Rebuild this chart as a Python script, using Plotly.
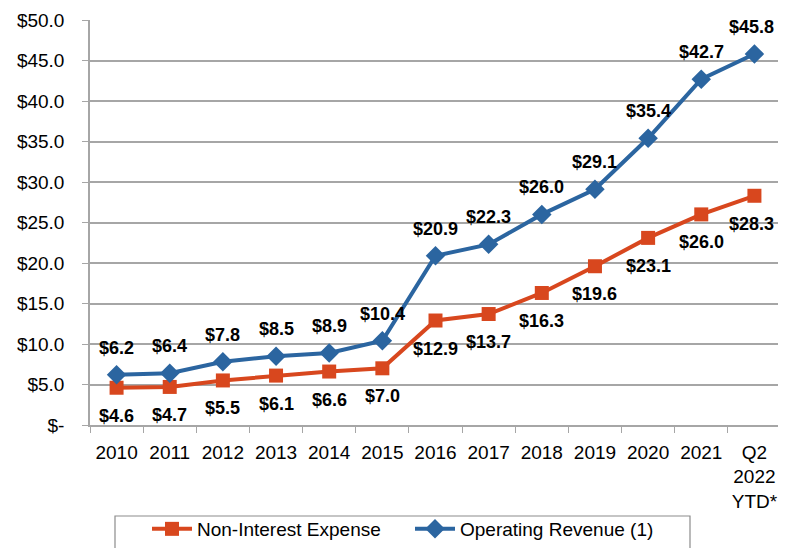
import plotly.graph_objects as go

categories = ["2010", "2011", "2012", "2013", "2014", "2015", "2016", "2017",
              "2018", "2019", "2020", "2021", "Q2<br>2022<br>YTD*"]
non_interest_expense = [4.6, 4.7, 5.5, 6.1, 6.6, 7.0, 12.9, 13.7, 16.3, 19.6, 23.1, 26.0, 28.3]
operating_revenue = [6.2, 6.4, 7.8, 8.5, 8.9, 10.4, 20.9, 22.3, 26.0, 29.1, 35.4, 42.7, 45.8]
y_tick_vals = [0, 5, 10, 15, 20, 25, 30, 35, 40, 45, 50]
y_tick_text = ["$-", "$5.0", "$10.0", "$15.0", "$20.0", "$25.0", "$30.0",
               "$35.0", "$40.0", "$45.0", "$50.0"]

ORANGE = "#D8471E"
BLUE = "#2B65A0"
GRID = "#A6A6A6"
FONT = "Liberation Sans, Arial, sans-serif"

# The page body has an 8px default margin, so the figure is sized to fit.
W, H = 773, 540
ML, MT, MB = 82, 12, 123
PH = H - MT - MB
PW = W - ML

fig = go.Figure()
fig.add_trace(go.Scatter(
    x=categories, y=non_interest_expense, name="Non-Interest Expense",
    mode="lines+markers",
    line=dict(color=ORANGE, width=4),
    marker=dict(symbol="square", size=14, color=ORANGE),
))
fig.add_trace(go.Scatter(
    x=categories, y=operating_revenue, name="Operating Revenue (1)",
    mode="lines+markers",
    line=dict(color=BLUE, width=4),
    marker=dict(symbol="diamond", size=15, color=BLUE),
))

last = len(categories) - 1
annotations = []
for i, v in enumerate(operating_revenue):
    annotations.append(dict(x=i, y=v, xref="x", yref="y", text=f"${v:.1f}", showarrow=False,
                            yshift=27, xshift=-3 if i == last else 0,
                            font=dict(family=FONT, size=18, color="black", weight="bold")))
for i, v in enumerate(non_interest_expense):
    annotations.append(dict(x=i, y=v, xref="x", yref="y", text=f"${v:.1f}", showarrow=False,
                            yshift=-28, xshift=-3 if i == last else 0,
                            font=dict(family=FONT, size=18, color="black", weight="bold")))

fig.update_layout(
    width=W, height=H,
    margin=dict(l=ML, r=0, t=MT, b=MB),
    paper_bgcolor="white", plot_bgcolor="white",
    font=dict(family=FONT, size=19, color="black"),
    showlegend=True,
    legend=dict(orientation="h", xanchor="left", x=(139 - ML) / PW, yanchor="top",
                y=(MT + PH - 502) / PH,
                font=dict(family=FONT, size=19, color="black"),
                bgcolor="rgba(0,0,0,0)", entrywidth=208, itemwidth=40),
    annotations=annotations,
    shapes=[dict(type="rect", xref="paper", yref="paper",
                 x0=(107 - ML) / PW, x1=(682 - ML) / PW,
                 y0=(MT + PH - 508) / PH, y1=(MT + PH - 600) / PH,
                 line=dict(color="#8C8C8C", width=1.2), layer="below")],
)
fig.update_xaxes(
    type="category", range=[-0.5, 12.5], automargin=False, tickangle=0,
    tickson="boundaries", ticks="outside", ticklen=6, tickcolor=GRID,
    showline=True, linecolor=GRID, linewidth=1.5,
    showgrid=False, tickfont=dict(family=FONT, size=19, color="black"),
    ticklabelstandoff=9,
)
fig.update_yaxes(
    range=[0, 50], tickvals=y_tick_vals, ticktext=y_tick_text, automargin=False,
    ticks="outside", ticklen=6, tickcolor=GRID,
    showline=True, linecolor=GRID, linewidth=1.5,
    showgrid=True, gridcolor=GRID, gridwidth=1.5,
    zeroline=False, tickfont=dict(family=FONT, size=19, color="black"),
    ticklabelstandoff=14,
)

fig.write_html("out.html")
